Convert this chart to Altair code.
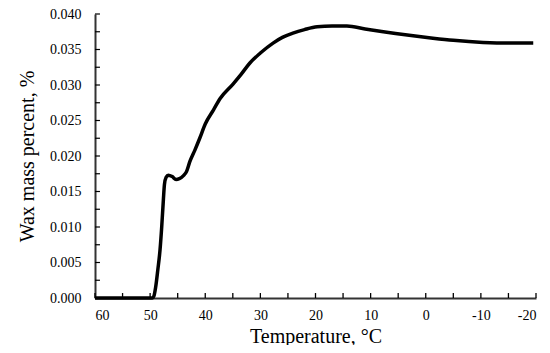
import altair as alt
import pandas as pd

temperature = [60, 55, 50, 49.6, 49.3, 49.0, 48.6, 48.2, 47.9, 47.6, 47.4, 47.1, 46.7,
               46.0, 45.3, 44.7, 44.0, 43.4, 42.8, 41.9, 41.0, 40.0, 38.5, 37.3, 35.0,
               33.5, 31.9, 30.0, 27.7, 26.0, 24.1, 22.0, 19.7, 17.0, 14.3, 11.0, 7.7,
               3.0, -1.3, -5.0, -10.4, -15.0, -19.5]
wax = [0.0, 0.0, 0.0, 0.0, 0.0003, 0.0015, 0.0040, 0.0068, 0.0100, 0.0138, 0.0160,
       0.0170, 0.0173, 0.0171, 0.0167, 0.0168, 0.0172, 0.0178, 0.0192, 0.0208, 0.0225,
       0.0245, 0.0265, 0.0281, 0.0301, 0.0315, 0.0331, 0.0345, 0.0359, 0.0367, 0.0373,
       0.0378, 0.0382, 0.0383, 0.0383, 0.0379, 0.0375, 0.0370, 0.0366, 0.0363, 0.0360,
       0.0359, 0.0359]

x_labels = [60, 50, 40, 30, 20, 10, 0, -10, -20]
y_labels = [0, 0.005, 0.01, 0.015, 0.02, 0.025, 0.03, 0.035, 0.04]
x_ticks = [60, 55, 50, 45, 40, 35, 30, 25, 20, 15, 10, 5, 0, -5, -10, -15, -20]
y_ticks = [0.0, 0.0025, 0.005, 0.0075, 0.01, 0.0125, 0.015, 0.0175, 0.02, 0.0225,
           0.025, 0.0275, 0.03, 0.0325, 0.035, 0.0375, 0.04]

W, H = 441, 284
FONT = "Liberation Serif"

df = pd.DataFrame({"T": temperature, "W": wax})
xs = alt.Scale(domain=[60, -20], nice=False, zero=False)
ys = alt.Scale(domain=[0, 0.04], nice=False)
xa = alt.Axis(values=x_labels, labelExpr="datum.value + ''",
              title="Temperature, °C", ticks=False, labelPadding=10,
              titlePadding=4, grid=False, labelOverlap=False, zindex=0)
ya = alt.Axis(values=y_labels, format=".3f", title="Wax mass percent, %", ticks=False,
              labelPadding=14, titlePadding=12, grid=False, labelOverlap=False, zindex=0)

line = alt.Chart(df).mark_line(color="black", strokeWidth=3.5, interpolate="monotone").encode(
    x=alt.X("T:Q", scale=xs, axis=xa, title="Temperature, °C"),
    y=alt.Y("W:Q", scale=ys, axis=ya, title="Wax mass percent, %"),
)

xt = alt.Chart(pd.DataFrame({"tx": x_ticks, "lo": [0.0] * len(x_ticks), "hi": [0.0007] * len(x_ticks)})).mark_rule(
    color="black", strokeWidth=1.3).encode(
    x=alt.X("tx:Q", scale=xs, axis=None),
    y=alt.Y("lo:Q", scale=ys, axis=None), y2="hi:Q")
yt = alt.Chart(pd.DataFrame({"yt": y_ticks, "x0": [60.0] * len(y_ticks), "x1": [59.1] * len(y_ticks)})).mark_rule(
    color="black", strokeWidth=1.2).encode(
    y=alt.Y("yt:Q", scale=ys, axis=None),
    x=alt.X("x0:Q", scale=xs, axis=None), x2="x1:Q")

chart = alt.layer(yt, xt, line).resolve_axis(x="independent", y="independent").properties(
    width=W, height=H,
    autosize=alt.AutoSizeParams(type="none"),
    padding={"left": 87, "top": 6, "right": 6, "bottom": 47},
).configure_view(stroke=None).configure_axis(
    domainColor="#333", domainWidth=2, labelFont=FONT, titleFont=FONT,
    labelFontSize=14, titleFontSize=20, labelColor="black", titleColor="black",
    titleFontWeight="normal",
)

chart.save("out.html", embed_options={"renderer": "svg", "actions": False})
